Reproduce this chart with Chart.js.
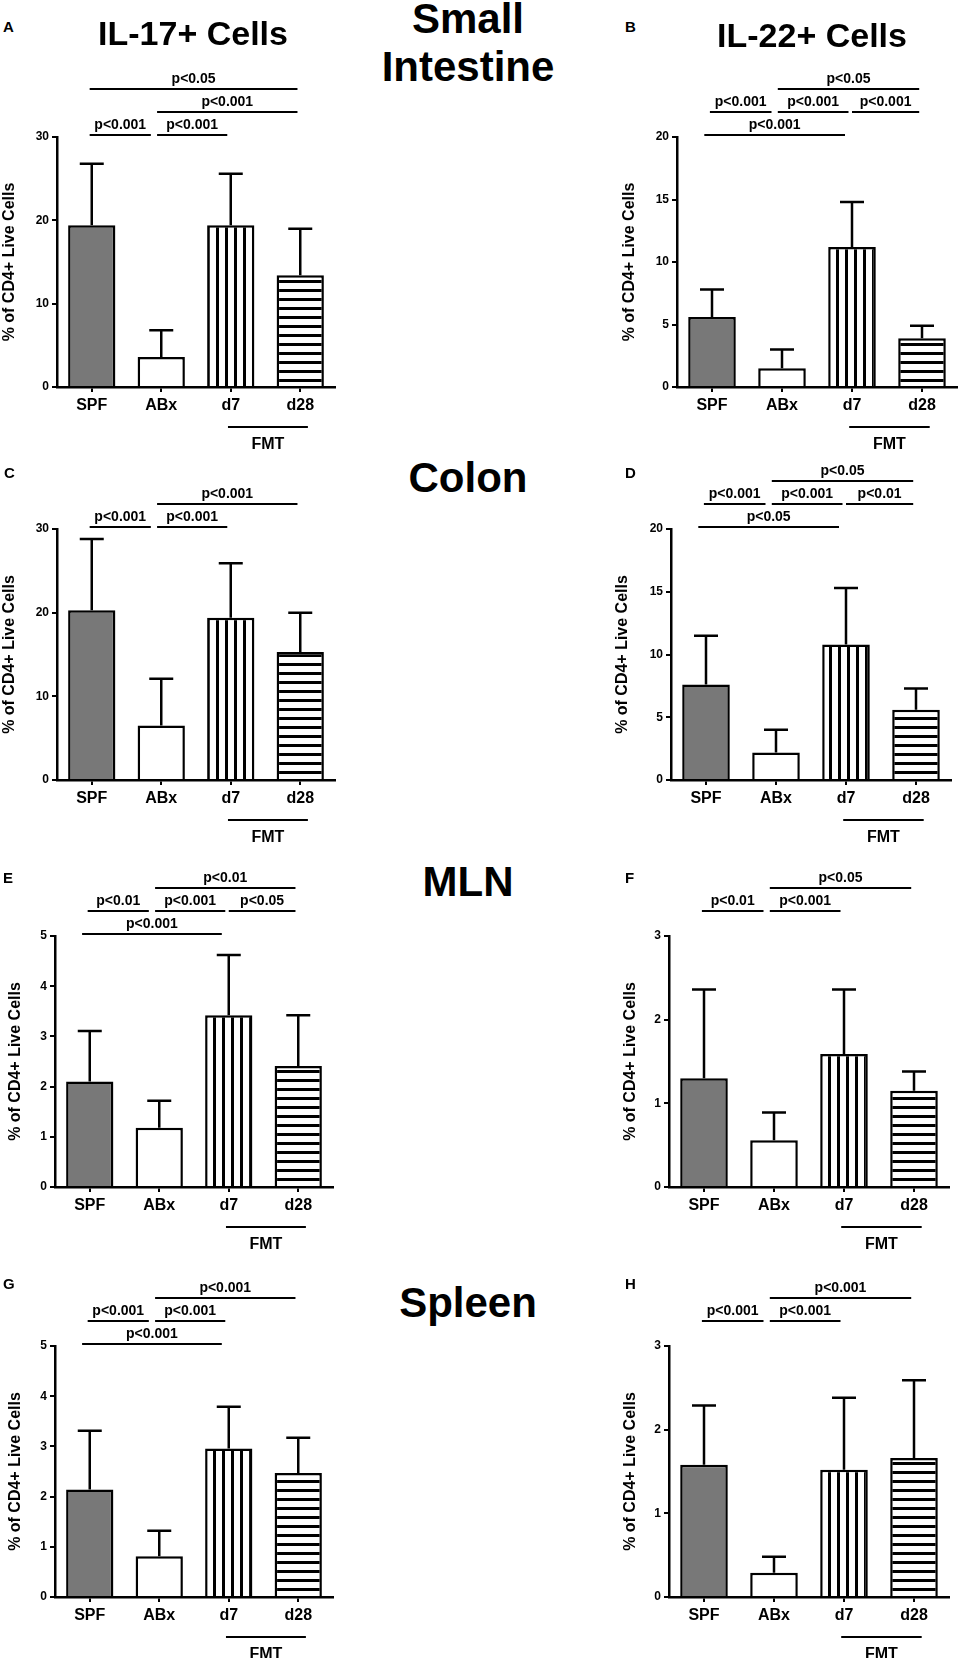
<!DOCTYPE html>
<html>
<head>
<meta charset="utf-8">
<script src="https://cdn.jsdelivr.net/npm/chart.js@4.4.0/dist/chart.umd.min.js"></script>
<style>
body { margin: 0; background: #fff; }
#page { position: relative; width: 960px; height: 1658px; overflow: hidden; background: #fff;
        font-family: "Liberation Sans", Arial, sans-serif; font-weight: bold; color: #000; }
.txt { position: absolute; white-space: nowrap; line-height: 1; }
canvas { position: absolute; }
</style>
</head>
<body>
<div id="page"></div>
<script>
// ---- data ----
const groups = ['SPF', 'ABx', 'd7', 'd28'];
const fmtGroups = [2, 3];
const tissues = ['Small\nIntestine', 'Colon', 'MLN', 'Spleen'];
const cytokines = ['IL-17+ Cells', 'IL-22+ Cells'];
const yTitle = '% of CD4+ Live Cells';

const siIL17 = [19.4, 3.6, 19.4, 13.4],   siIL17Err = [26.8, 6.8, 25.6, 19.0];
const siIL22 = [5.6, 1.5, 11.2, 3.9],     siIL22Err = [7.8, 3.0, 14.8, 4.9];
const coIL17 = [20.3, 6.5, 19.4, 15.3],   coIL17Err = [28.8, 12.1, 25.9, 20.0];
const coIL22 = [7.6, 2.2, 10.8, 5.6],     coIL22Err = [11.5, 4.0, 15.3, 7.3];
const mlnIL17 = [2.1, 1.18, 3.42, 2.41],  mlnIL17Err = [3.11, 1.72, 4.62, 3.42];
const mlnIL22 = [1.3, 0.56, 1.59, 1.15],  mlnIL22Err = [2.36, 0.89, 2.36, 1.38];
const spIL17 = [2.14, 0.81, 2.96, 2.47],  spIL17Err = [3.31, 1.32, 3.79, 3.17];
const spIL22 = [1.58, 0.29, 1.52, 1.66],  spIL22Err = [2.29, 0.48, 2.38, 2.59];

// [from group, to group, row, label]
const siIL17Stats = [[0, 1, 1, 'p<0.001'], [1, 2, 1, 'p<0.001'], [1, 3, 2, 'p<0.001'], [0, 3, 3, 'p<0.05']];
const siIL22Stats = [[0, 2, 1, 'p<0.001'], [0, 1, 2, 'p<0.001'], [1, 2, 2, 'p<0.001'], [2, 3, 2, 'p<0.001'], [1, 3, 3, 'p<0.05']];
const coIL17Stats = [[0, 1, 1, 'p<0.001'], [1, 2, 1, 'p<0.001'], [1, 3, 2, 'p<0.001']];
const coIL22Stats = [[0, 2, 1, 'p<0.05'], [0, 1, 2, 'p<0.001'], [1, 2, 2, 'p<0.001'], [2, 3, 2, 'p<0.01'], [1, 3, 3, 'p<0.05']];
const mlnIL17Stats = [[0, 2, 1, 'p<0.001'], [0, 1, 2, 'p<0.01'], [1, 2, 2, 'p<0.001'], [2, 3, 2, 'p<0.05'], [1, 3, 3, 'p<0.01']];
const mlnIL22Stats = [[0, 1, 2, 'p<0.01'], [1, 2, 2, 'p<0.001'], [1, 3, 3, 'p<0.05']];
const spIL17Stats = [[0, 2, 1, 'p<0.001'], [0, 1, 2, 'p<0.001'], [1, 2, 2, 'p<0.001'], [1, 3, 3, 'p<0.001']];
const spIL22Stats = [[0, 1, 2, 'p<0.001'], [1, 2, 2, 'p<0.001'], [1, 3, 3, 'p<0.001']];

const yMax = [30, 20, 30, 20, 5, 3, 5, 3];
const yStep = [10, 5, 10, 5, 1, 1, 1, 1];

// ---- layout ----
const FONT = '"Liberation Sans", Arial, sans-serif';
const page = document.getElementById('page');

const panels = [
    { letter: 'A', mean: siIL17, err: siIL17Err, stats: siIL17Stats, x0: 57, x1: 335, top: 137, bot: 387, titleX: 10 },
    { letter: 'B', mean: siIL22, err: siIL22Err, stats: siIL22Stats, x0: 677, x1: 957, top: 137, bot: 387, titleX: 630 },
    { letter: 'C', mean: coIL17, err: coIL17Err, stats: coIL17Stats, x0: 57, x1: 335, top: 529, bot: 780, titleX: 10 },
    { letter: 'D', mean: coIL22, err: coIL22Err, stats: coIL22Stats, x0: 671, x1: 951, top: 529, bot: 780, titleX: 623 },
    { letter: 'E', mean: mlnIL17, err: mlnIL17Err, stats: mlnIL17Stats, x0: 55, x1: 333, top: 936, bot: 1187, titleX: 16 },
    { letter: 'F', mean: mlnIL22, err: mlnIL22Err, stats: mlnIL22Stats, x0: 669, x1: 949, top: 936, bot: 1187, titleX: 631 },
    { letter: 'G', mean: spIL17, err: spIL17Err, stats: spIL17Stats, x0: 55, x1: 333, top: 1346, bot: 1597, titleX: 16 },
    { letter: 'H', mean: spIL22, err: spIL22Err, stats: spIL22Stats, x0: 669, x1: 949, top: 1346, bot: 1597, titleX: 631 }
];

function text(str, x, baseline, size, center) {
    const d = document.createElement('div');
    d.className = 'txt';
    d.textContent = str;
    d.style.fontSize = size + 'px';
    d.style.left = x + 'px';
    d.style.top = (baseline - 0.8465 * size) + 'px';
    if (center) d.style.transform = 'translateX(-50%)';
    page.appendChild(d);
}

function stripes(vertical) {
    const c = document.createElement('canvas');
    const n = 9;
    c.width = n; c.height = n;
    const g = c.getContext('2d');
    g.fillStyle = '#fff';
    g.fillRect(0, 0, n, n);
    g.fillStyle = '#000';
    if (vertical) g.fillRect(0, 0, 3, n);
    else g.fillRect(0, 0, n, 3);
    return g.createPattern(c, 'repeat');
}
const fills = ['#787878', '#ffffff', stripes(true), stripes(false)];

// bracket ends, in group units
function startOff(a, b, row) {
    if (a === 0) return (row === 1 && b === 2) ? -0.11 : -0.03;
    if (a === 1) return 0.94;
    return 2.0;
}
function endOff(a, b) {
    if (b === 1) return 0.85;
    if (b === 2) return a === 0 ? 1.9 : 1.95;
    return 2.96;
}

const extras = {
    id: 'extras',
    afterDatasetsDraw(chart, args, opts) {
        const { ctx, chartArea } = chart;
        const xs = chart.scales.x, ys = chart.scales.y;
        const meta = chart.getDatasetMeta(0);
        ctx.save();
        ctx.strokeStyle = '#000';
        ctx.fillStyle = '#000';
        ctx.lineWidth = 2.5;

        // error bars (upper only)
        meta.data.forEach((bar, i) => {
            const ye = ys.getPixelForValue(opts.err[i]);
            ctx.beginPath();
            ctx.moveTo(bar.x, bar.y);
            ctx.lineTo(bar.x, ye);
            ctx.moveTo(bar.x - 12, ye);
            ctx.lineTo(bar.x + 12, ye);
            ctx.stroke();
        });

        // significance lines
        ctx.lineWidth = 2;
        ctx.font = 'bold 14px ' + FONT;
        ctx.textAlign = 'center';
        ctx.textBaseline = 'alphabetic';
        opts.stats.forEach(([a, b, row, lab]) => {
            const xa = xs.getPixelForValue(startOff(a, b, row));
            const xb = xs.getPixelForValue(endOff(a, b));
            const y = chartArea.top - 2 - (row - 1) * 23;
            ctx.beginPath();
            ctx.moveTo(xa, y);
            ctx.lineTo(xb, y);
            ctx.stroke();
            ctx.fillText(lab, (xa + xb) / 2, y - 6);
        });

        // FMT grouping line
        const fa = xs.getPixelForValue(fmtGroups[0] - 0.04);
        const fb = xs.getPixelForValue(fmtGroups[1] + 0.11);
        const fy = chartArea.bottom + 40;
        ctx.beginPath();
        ctx.moveTo(fa, fy);
        ctx.lineTo(fb, fy);
        ctx.stroke();
        ctx.font = 'bold 16px ' + FONT;
        ctx.fillText('FMT', (fa + fb) / 2, fy + 22);
        ctx.restore();
    }
};

panels.forEach((p, k) => {
    const cvLeft = Math.round(p.titleX - 9.6);
    const cvTop = p.top - 100;
    const cvRight = p.x1 + 12;
    const cvBot = p.bot + 72;
    const xH = 32;

    const cv = document.createElement('canvas');
    cv.width = cvRight - cvLeft;
    cv.height = cvBot - cvTop;
    cv.style.left = cvLeft + 'px';
    cv.style.top = cvTop + 'px';
    page.appendChild(cv);

    new Chart(cv.getContext('2d'), {
        type: 'bar',
        data: {
            labels: groups,
            datasets: [{
                data: p.mean,
                backgroundColor: fills,
                borderColor: '#000',
                borderWidth: 2.5,
                barPercentage: 0.68,
                categoryPercentage: 1
            }]
        },
        options: {
            responsive: false,
            animation: false,
            events: [],
            layout: {
                padding: { left: 0, top: p.top - cvTop, right: cvRight - p.x1, bottom: cvBot - p.bot - xH }
            },
            plugins: {
                legend: { display: false },
                tooltip: { enabled: false },
                extras: { err: p.err, stats: p.stats }
            },
            scales: {
                x: {
                    offset: true,
                    grid: { display: true, offset: false, drawOnChartArea: false, drawTicks: true, tickLength: 5, color: '#000', lineWidth: 2 },
                    border: { display: true, color: '#000', width: 2.5 },
                    ticks: { color: '#000', padding: 4, autoSkip: false, maxRotation: 0, font: { family: FONT, size: 16, weight: 'bold' } },
                    afterFit: s => { s.height = xH; }
                },
                y: {
                    min: 0,
                    max: yMax[k],
                    grid: { display: true, drawOnChartArea: false, drawTicks: true, tickLength: 5, color: '#000', lineWidth: 2 },
                    border: { display: true, color: '#000', width: 2.5 },
                    ticks: { stepSize: yStep[k], color: '#000', padding: 3, font: { family: FONT, size: 12, weight: 'bold' } },
                    title: { display: true, text: yTitle, color: '#000', padding: { top: 0, bottom: 0 }, font: { family: FONT, size: 16, weight: 'bold' } },
                    afterFit: s => { s.width = p.x0 - cvLeft; }
                }
            }
        },
        plugins: [extras]
    });
});

// panel letters
const letterPos = [[3, 32], [625, 32], [4, 478], [625, 478], [3, 883], [625, 883], [3, 1289], [625, 1289]];
panels.forEach((p, i) => text(p.letter, letterPos[i][0], letterPos[i][1], 15, false));

// column titles
text(cytokines[0], 193, 45, 34, true);
text(cytokines[1], 812, 47, 34, true);

// tissue titles
const tissueBase = [[34, 82], [493], [897], [1318]];
tissues.forEach((t, i) => {
    t.split('\n').forEach((line, j) => text(line, 468, tissueBase[i][j], 42, true));
});
</script>
</body>
</html>
